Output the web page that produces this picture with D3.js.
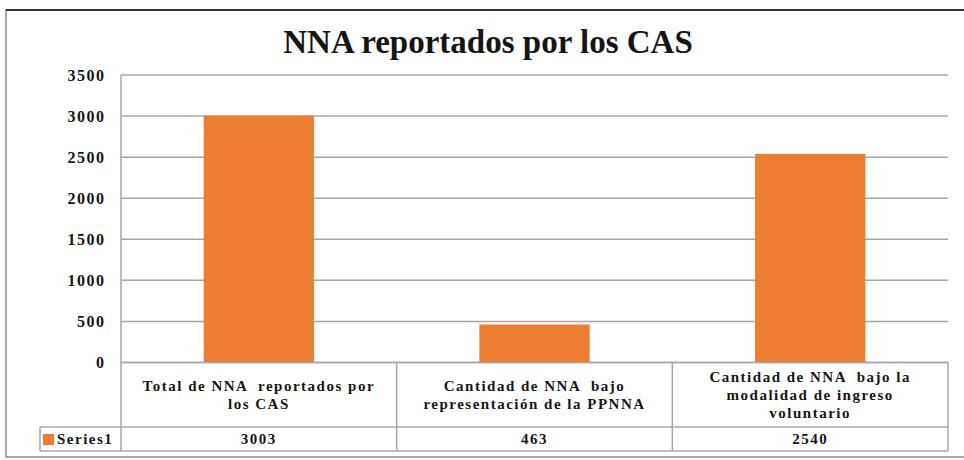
<!DOCTYPE html>
<html>
  <head>
    <meta charset="utf-8">
    <script type="text/javascript" src="https://cdn.jsdelivr.net/npm/d3@7/dist/d3.min.js"></script>
    <title>NNA reportados por los CAS</title>
    <style>
      body { margin: 0; background: #fff; }
      text { font-family: "Liberation Serif", "Times New Roman", serif; font-weight: bold; fill: #151515; white-space: pre; }
    </style>
  </head>
  <body>
    <div id="chart"></div>
    <script type="text/javascript">
    var categories = [
      ["Total de NNA  reportados por", "los CAS"],
      ["Cantidad de NNA  bajo", "representación de la PPNNA"],
      ["Cantidad de NNA  bajo la", "modalidad de ingreso", "voluntario"]
    ];
    var seriesName = "Series1";
    var values = [3003, 463, 2540];
    var yTicks = [0, 500, 1000, 1500, 2000, 2500, 3000, 3500];

    var w = 964, h = 460;
    var plotLeft = 121, plotRight = 948, plotTop = 75, zero = 362.5;
    var row1 = 427, row2 = 451, legendLeft = 40;
    var grid = "#a6a6a6";

    var svg = d3.select("#chart").append("svg")
        .attr("width", w).attr("height", h);

    // outer frame
    svg.append("rect").attr("x", 6).attr("y", 10).attr("width", 970).attr("height", 447)
        .attr("fill", "none").attr("stroke", "#8c8c8c").attr("stroke-width", 1.5);
    svg.append("line").attr("x1", 6).attr("x2", w).attr("y1", 10).attr("y2", 10)
        .attr("stroke", "#333").attr("stroke-width", 2);

    svg.append("text").attr("x", 488).attr("y", 53).attr("text-anchor", "middle")
        .style("font-size", "33px").text("NNA reportados por los CAS");

    var y = d3.scaleLinear().domain([0, 3500]).range([zero, plotTop]);
    var x = d3.scaleBand().domain(d3.range(categories.length)).range([plotLeft, plotRight]).padding(0);

    // gridlines
    svg.append("g").selectAll("line").data(yTicks).enter().append("line")
        .attr("x1", plotLeft).attr("x2", plotRight)
        .attr("y1", function(d) { return y(d); }).attr("y2", function(d) { return y(d); })
        .attr("stroke", grid).attr("stroke-width", 1.5);

    // y axis labels
    svg.append("g").selectAll("text").data(yTicks).enter().append("text")
        .attr("x", 105.5).attr("y", function(d) { return y(d); }).attr("dy", "0.35em")
        .attr("text-anchor", "end").style("font-size", "16px").style("letter-spacing", "1.5px")
        .text(function(d) { return d; });

    // bars
    var barW = x.bandwidth() * 0.4;
    svg.append("g").selectAll("rect").data(values).enter().append("rect")
        .attr("x", function(d, i) { return x(i) + (x.bandwidth() - barW) / 2; })
        .attr("y", function(d) { return y(d); })
        .attr("width", barW)
        .attr("height", function(d) { return zero - y(d); })
        .attr("fill", "#ED7D31");

    // data table lines
    var t = svg.append("g").attr("stroke", grid).attr("stroke-width", 1.5);
    t.append("line").attr("x1", plotLeft).attr("x2", plotLeft).attr("y1", plotTop).attr("y2", row2);
    t.append("line").attr("x1", plotLeft).attr("x2", plotRight).attr("y1", zero).attr("y2", zero);
    t.append("line").attr("x1", legendLeft).attr("x2", plotRight).attr("y1", row1).attr("y2", row1);
    t.append("line").attr("x1", legendLeft).attr("x2", plotRight).attr("y1", row2).attr("y2", row2);
    t.append("line").attr("x1", legendLeft).attr("x2", legendLeft).attr("y1", row1).attr("y2", row2);
    t.selectAll(".sep").data(d3.range(1, categories.length + 1)).enter().append("line")
        .attr("x1", function(d) { return x(d) === undefined ? plotRight : x(d); })
        .attr("x2", function(d) { return x(d) === undefined ? plotRight : x(d); })
        .attr("y1", zero).attr("y2", row2);

    // category labels
    var cat = svg.append("g").selectAll("text").data(categories).enter().append("text")
        .attr("text-anchor", "middle").style("font-size", "15px").style("letter-spacing", "1.5px")
        .attr("transform", function(d, i) {
          var cy = (zero + row1) / 2 - (d.length - 1) * 18 / 2;
          return "translate(" + (x(i) + x.bandwidth() / 2) + "," + cy + ")";
        });
    cat.selectAll("tspan").data(function(d) { return d; }).enter().append("tspan")
        .attr("x", 0).attr("y", function(d, j) { return j * 18; }).attr("dy", "0.35em")
        .text(function(d) { return d; });

    // legend cell
    svg.append("rect").attr("x", 43).attr("y", 434).attr("width", 11).attr("height", 11)
        .attr("fill", "#ED7D31");
    svg.append("text").attr("x", 57).attr("y", (row1 + row2) / 2).attr("dy", "0.35em")
        .style("font-size", "15px").style("letter-spacing", "1.5px").text(seriesName);

    // values row
    svg.append("g").selectAll("text").data(values).enter().append("text")
        .attr("x", function(d, i) { return x(i) + x.bandwidth() / 2; })
        .attr("y", (row1 + row2) / 2).attr("dy", "0.35em")
        .attr("text-anchor", "middle").style("font-size", "15px").style("letter-spacing", "1.5px")
        .text(function(d) { return d; });
    </script>
  </body>
</html>
